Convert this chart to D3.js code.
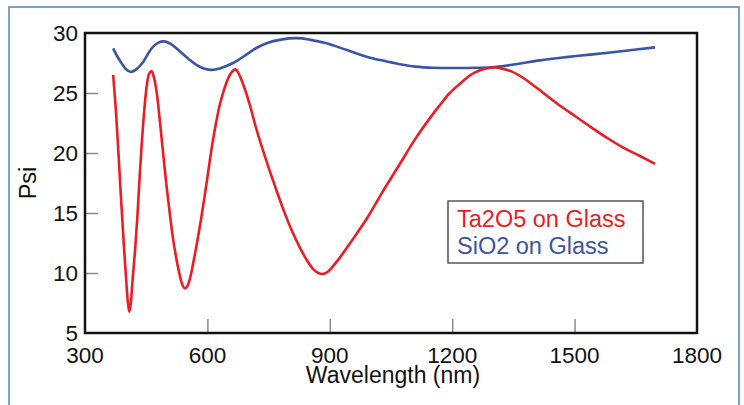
<!DOCTYPE html>
<html>
<head>
<meta charset="utf-8">
<script src="https://cdn.jsdelivr.net/npm/d3@7"></script>
<style>
html,body{margin:0;padding:0;background:#fff;}
svg{display:block;font-family:"Liberation Sans",Arial,sans-serif;}
</style>
</head>
<body>
<svg id="chart" width="744" height="405"></svg>
<script>
// ---- data ----
const ta2o5Wavelength = [369,376,382,388,394,400,405,408.6,412,417,422.5,428,435,443,451,457,463,469,476,484,492,500,508,516,525,533,540,545,550,557,565,575,585,598,610,620,631,642,652,661,669,677,690,704,720,745,765,786,806,827,845,860,872,882,893,905,925,950,990,1030,1072,1110,1154,1170,1194,1220,1245,1268,1290,1305,1320,1345,1374,1410,1456,1500,1538,1580,1619,1660,1697];
const ta2o5Psi = [26.5,23.4,20.0,16.4,13.0,9.9,7.6,6.78,7.4,9.6,11.8,14.5,18.6,22.6,25.5,26.6,26.83,26.3,24.97,22.5,19.8,17.2,14.9,12.8,11.0,9.7,8.9,8.72,8.85,9.5,10.8,12.6,14.6,17.5,20.3,22.3,24.1,25.4,26.3,26.8,26.97,26.6,25.5,24.0,22.0,19.3,17.3,15.3,13.6,12.1,11.0,10.3,10.0,9.92,10.05,10.45,11.3,12.5,14.5,16.8,19.1,21.2,23.3,24.0,25.0,25.8,26.5,26.9,27.08,27.12,27.05,26.8,26.25,25.35,24.15,23.1,22.2,21.25,20.45,19.75,19.1];

const sio2Wavelength = [369,380,390,400,412,425,443,455,467,480,494,510,533,555,574,595,612,630,663,700,720,745,780,819,850,892,940,990,1030,1072,1110,1154,1210,1260,1305,1360,1415,1480,1538,1620,1697];
const sio2Psi = [28.72,28.0,27.47,27.0,26.75,26.95,27.6,28.3,28.86,29.2,29.3,29.1,28.45,27.8,27.33,27.0,26.93,27.05,27.5,28.3,28.75,29.15,29.45,29.57,29.45,29.14,28.6,28.03,27.7,27.4,27.2,27.1,27.08,27.1,27.17,27.42,27.72,27.99,28.2,28.5,28.8];

const xTicks = [300,600,900,1200,1500,1800];
const yTicks = [5,10,15,20,25,30];
const seriesNames = ["Ta2O5 on Glass","SiO2 on Glass"];
const seriesColors = ["#ec1c24","#3a55a5"];

// ---- layout ----
const svg = d3.select("#chart");
const L = 85, R = 697, T = 33, B = 333;
const x = d3.scaleLinear().domain([300,1800]).range([L,R]);
const y = d3.scaleLinear().domain([5,30]).range([B,T]);

// outer frame
svg.append("rect").attr("x",9).attr("y",7).attr("width",730).attr("height",410)
  .attr("fill","none").attr("stroke","#4f86b5").attr("stroke-width",1.5);

// inner ticks via axes
const xAxis = d3.axisBottom(x).tickValues(xTicks.slice(1,-1)).tickSize(-14).tickFormat("");
const gx = svg.append("g").attr("transform",`translate(0,${B})`).call(xAxis);
gx.select(".domain").remove();
gx.selectAll("line").attr("stroke","#8a8a8a").attr("stroke-width",1.5);

const yAxis = d3.axisLeft(y).tickValues(yTicks.slice(1,-1)).tickSize(-13).tickFormat("");
const gy = svg.append("g").attr("transform",`translate(${L},0)`).call(yAxis);
gy.select(".domain").remove();
gy.selectAll("line").attr("stroke","#8a8a8a").attr("stroke-width",1.5);

// tick labels
svg.append("g").selectAll("text").data(xTicks).join("text")
  .attr("x",d=>x(d)).attr("y",363).attr("text-anchor","middle")
  .attr("font-size",22.5).attr("fill","#111").text(d=>d);
svg.append("g").selectAll("text").data(yTicks).join("text")
  .attr("x",78).attr("y",d=>y(d)+7.5).attr("text-anchor","end")
  .attr("font-size",22.5).attr("fill","#111").text(d=>d);

// axis titles
svg.append("text").attr("x",393).attr("y",383).attr("text-anchor","middle")
  .attr("font-size",23).attr("fill","#111").text("Wavelength (nm)");
svg.append("text").attr("transform","translate(36,183) rotate(-90)")
  .attr("text-anchor","middle").attr("font-size",23.5).attr("fill","#111").text("Psi");

// lines
const line = d3.line().x(d=>x(d[0])).y(d=>y(d[1])).curve(d3.curveCatmullRom.alpha(0.5));
const sio2 = sio2Wavelength.map((w,i)=>[w,sio2Psi[i]]);
const ta2o5 = ta2o5Wavelength.map((w,i)=>[w,ta2o5Psi[i]]);
svg.append("path").datum(sio2).attr("d",line).attr("fill","none")
  .attr("stroke",seriesColors[1]).attr("stroke-width",2.6).attr("stroke-linejoin","round");
svg.append("path").datum(ta2o5).attr("d",line).attr("fill","none")
  .attr("stroke",seriesColors[0]).attr("stroke-width",2.6).attr("stroke-linejoin","round");

// plot frame
svg.append("rect").attr("x",L).attr("y",T).attr("width",R-L).attr("height",B-T)
  .attr("fill","none").attr("stroke","#111").attr("stroke-width",2.5);

// legend
svg.append("rect").attr("x",448).attr("y",201).attr("width",195).attr("height",62)
  .attr("fill","#fff").attr("stroke","#555").attr("stroke-width",1.5);
svg.append("g").selectAll("text").data(seriesNames).join("text")
  .attr("x",457).attr("y",(d,i)=>227+i*26.5).attr("font-size",23.5)
  .attr("fill",(d,i)=>seriesColors[i]).text(d=>d);
</script>
</body>
</html>
